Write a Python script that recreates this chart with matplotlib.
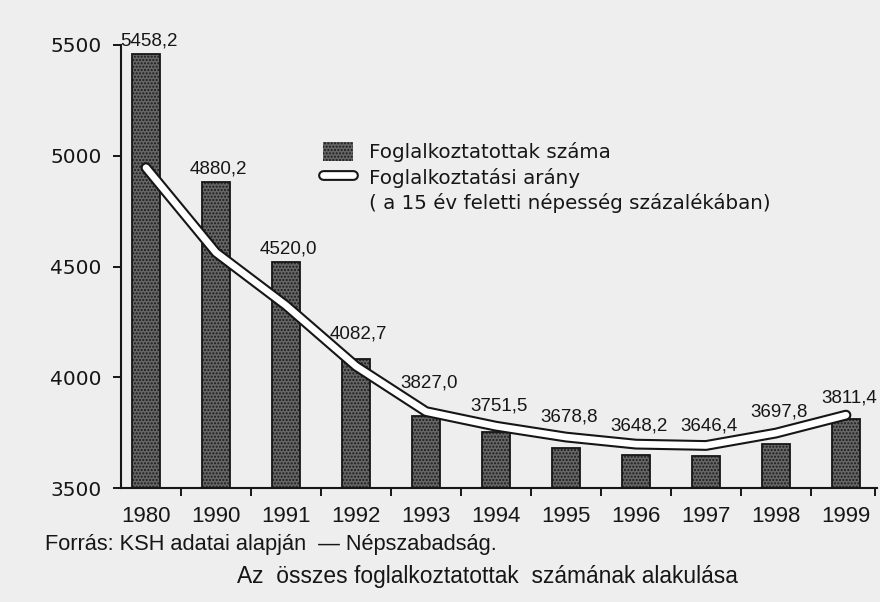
import numpy as np
import matplotlib
matplotlib.use('Agg')
import matplotlib.pyplot as plt
from matplotlib.patches import Patch
from matplotlib.lines import Line2D
import matplotlib.patheffects as pe
from matplotlib import font_manager

# ---- data ----
years = ['1980', '1990', '1991', '1992', '1993', '1994', '1995', '1996', '1997', '1998', '1999']
employed = [5458.2, 4880.2, 4520.0, 4082.7, 3827.0, 3751.5, 3678.8, 3648.2, 3646.4, 3697.8, 3811.4]
value_labels = ['5458,2', '4880,2', '4520,0', '4082,7', '3827,0', '3751,5',
                '3678,8', '3648,2', '3646,4', '3697,8', '3811,4']
rate_curve = [4946, 4563, 4324, 4050, 3845, 3779, 3730, 3698, 3692, 3748, 3829]
yticks = [3500, 4000, 4500, 5000, 5500]

legend_bar = 'Foglalkoztatottak száma'
legend_line = 'Foglalkoztatási arány'
legend_line2 = '( a 15 év feletti népesség százalékában)'
source_text = 'Forrás: KSH adatai alapján  — Népszabadság.'
title_text = 'Az  összes foglalkoztatottak  számának alakulása'

BG = '#eeeeee'
INK = '#161616'
BAR_FACE = '#666666'
BAR_DOTS = '#1a1a1a'
W, H = 880, 602


def has_font(name):
    return any(f.name == name for f in font_manager.fontManager.ttflist)


narrow = 'Liberation Sans Narrow' if has_font('Liberation Sans Narrow') else 'Liberation Sans'
narrow_size = 16 if narrow == 'Liberation Sans Narrow' else 13.5

fig = plt.figure(figsize=(W / 100, H / 100), dpi=100, facecolor=BG)
ax = fig.add_axes([121 / W, 114 / H, 756 / W, 443 / H])
ax.set_facecolor('none')

x = np.arange(len(years))
bw = 0.41

# bars: stippled grey fill, then black outline
ax.bar(x, employed, width=bw, color=BAR_FACE, edgecolor=BAR_DOTS,
       hatch='.....', linewidth=0, zorder=2)
ax.bar(x, employed, width=bw, fill=False, edgecolor=INK, linewidth=1.3, zorder=3)

# white line with black outline
line_fx = [pe.Stroke(linewidth=7.8, foreground=INK, capstyle='round'), pe.Normal()]
ax.plot(x, rate_curve, color='white', lw=4.8, solid_capstyle='round',
        solid_joinstyle='round', path_effects=line_fx, zorder=4)

# value labels above the bar or the curve, whichever is higher around the label
for xi, v, lab in zip(x, employed, value_labels):
    curve_near = np.interp([xi - 0.25, xi, xi + 0.25], x, rate_curve).max()
    top = max(v, curve_near + 15)
    ax.annotate(lab, (xi, top), xytext=(2, 6.5), textcoords='offset points',
                ha='center', va='baseline', fontsize=narrow_size,
                family=narrow, color=INK, zorder=5)

ax.set_xlim(-0.357, 10.443)
ax.set_ylim(3500, 5500)

for s in ('top', 'right'):
    ax.spines[s].set_visible(False)
for s in ('left', 'bottom'):
    ax.spines[s].set_linewidth(1.5)
    ax.spines[s].set_color(INK)

ax.set_yticks(yticks)
ax.set_yticklabels([str(t) for t in yticks], family='DejaVu Sans', fontsize=14.5, color=INK)
ax.tick_params(axis='y', direction='out', length=6, width=1.4, pad=8, colors=INK)

ax.set_xticks(x)
ax.set_xticklabels(years, family='Liberation Sans', fontsize=16, color=INK)
ax.tick_params(axis='x', which='major', length=0, pad=13)
ax.set_xticks(list(x[:-1] + 0.5) + [10.42], minor=True)
ax.tick_params(axis='x', which='minor', direction='out', length=6, width=1.4, color=INK)

# legend
h_bar = Patch(facecolor=BAR_FACE, edgecolor=BAR_DOTS, hatch='.....', linewidth=0)
h_line = Line2D([0], [0], color='white', lw=4.8, solid_capstyle='round',
                path_effects=line_fx)
h_blank = Line2D([0], [0], color='none', lw=0)
ax.legend([h_bar, h_line, h_blank], [legend_bar, legend_line, legend_line2],
          loc='upper left', bbox_to_anchor=(323 / W, 1 - 142 / H),
          bbox_transform=fig.transFigure, frameon=False, borderpad=0,
          borderaxespad=0, handlelength=1.5, handleheight=1.1,
          handletextpad=0.8, labelspacing=0.25,
          prop={'family': 'DejaVu Sans', 'size': 14.3}, labelcolor=INK)

fig.text(45 / W, 1 - 550 / H, source_text, ha='left', va='baseline',
         family='Liberation Sans', fontsize=15.7, color=INK)
fig.text(487 / W, 1 - 583 / H, title_text, ha='center', va='baseline',
         family='Liberation Sans', fontsize=16.4, color=INK)

fig.savefig('out.png', dpi=100, facecolor=BG)
